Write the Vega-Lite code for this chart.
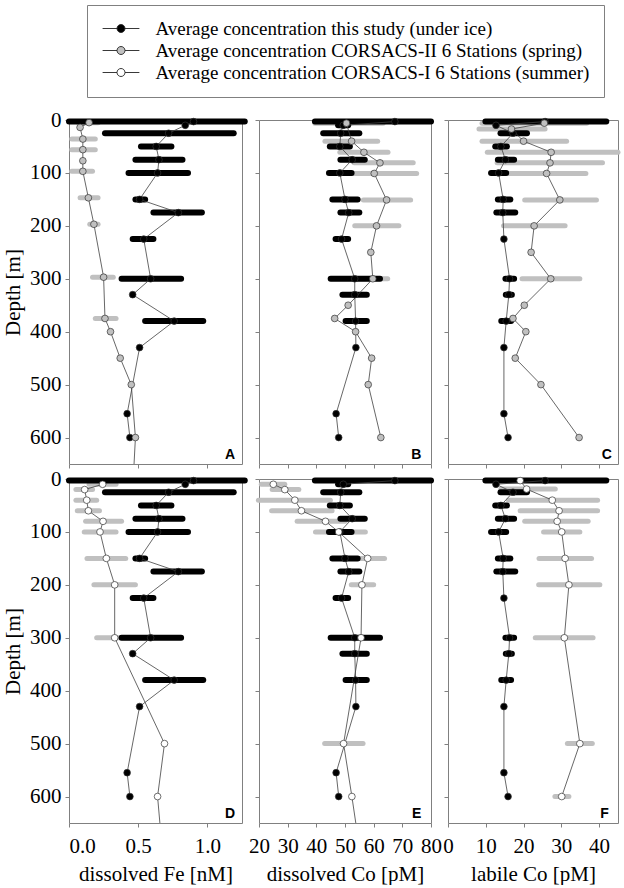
{
  "$schema": "https://vega.github.io/schema/vega-lite/v6.json",
  "padding": {"left": 2, "top": 4, "right": 2, "bottom": 0},
  "background": "white",
  "datasets": {
    "Fe": [
      {"s": "ice", "d": 3, "v": 0.9, "lo": 0, "hi": 1.27},
      {"s": "ice", "d": 10, "v": 0.84},
      {"s": "ice", "d": 25, "v": 0.72, "lo": 0.26, "hi": 1.19},
      {"s": "ice", "d": 50, "v": 0.63, "lo": 0.52, "hi": 0.74},
      {"s": "ice", "d": 75, "v": 0.65, "lo": 0.48, "hi": 0.82},
      {"s": "ice", "d": 100, "v": 0.64, "lo": 0.43, "hi": 0.86},
      {"s": "ice", "d": 150, "v": 0.51, "lo": 0.48, "hi": 0.55},
      {"s": "ice", "d": 175, "v": 0.79, "lo": 0.61, "hi": 0.96},
      {"s": "ice", "d": 225, "v": 0.54, "lo": 0.46, "hi": 0.61},
      {"s": "ice", "d": 300, "v": 0.59, "lo": 0.38, "hi": 0.81},
      {"s": "ice", "d": 330, "v": 0.46},
      {"s": "ice", "d": 380, "v": 0.76, "lo": 0.55, "hi": 0.97},
      {"s": "ice", "d": 430, "v": 0.51},
      {"s": "ice", "d": 555, "v": 0.42},
      {"s": "ice", "d": 600, "v": 0.44},
      {"s": "spring", "d": 5, "v": 0.145, "lo": 0.07, "hi": 0.21},
      {"s": "spring", "d": 14, "v": 0.08},
      {"s": "spring", "d": 36, "v": 0.1, "lo": 0.02, "hi": 0.19},
      {"s": "spring", "d": 56, "v": 0.1, "lo": 0.02, "hi": 0.19},
      {"s": "spring", "d": 77, "v": 0.1},
      {"s": "spring", "d": 97, "v": 0.1, "lo": 0.02, "hi": 0.17},
      {"s": "spring", "d": 147, "v": 0.14, "lo": 0.08, "hi": 0.21},
      {"s": "spring", "d": 197, "v": 0.18, "lo": 0.15, "hi": 0.21},
      {"s": "spring", "d": 297, "v": 0.25, "lo": 0.17, "hi": 0.32},
      {"s": "spring", "d": 375, "v": 0.26, "lo": 0.19, "hi": 0.34},
      {"s": "spring", "d": 400, "v": 0.3},
      {"s": "spring", "d": 450, "v": 0.37},
      {"s": "spring", "d": 500, "v": 0.45},
      {"s": "spring", "d": 600, "v": 0.48},
      {"s": "spring", "d": 750, "v": 0.45},
      {"s": "summer", "d": 10, "v": 0.243, "lo": 0.145, "hi": 0.34},
      {"s": "summer", "d": 20, "v": 0.113, "lo": 0.05, "hi": 0.17},
      {"s": "summer", "d": 40, "v": 0.128, "lo": 0.05, "hi": 0.2},
      {"s": "summer", "d": 60, "v": 0.14, "lo": 0.06, "hi": 0.22},
      {"s": "summer", "d": 80, "v": 0.246, "lo": 0.12, "hi": 0.38},
      {"s": "summer", "d": 100, "v": 0.224, "lo": 0.11, "hi": 0.34},
      {"s": "summer", "d": 150, "v": 0.27, "lo": 0.13, "hi": 0.41},
      {"s": "summer", "d": 200, "v": 0.33, "lo": 0.18, "hi": 0.48},
      {"s": "summer", "d": 300, "v": 0.33, "lo": 0.2, "hi": 0.46},
      {"s": "summer", "d": 500, "v": 0.69},
      {"s": "summer", "d": 600, "v": 0.64},
      {"s": "summer", "d": 750, "v": 0.69}
    ],
    "dCo": [
      {"s": "ice", "d": 3, "v": 67.4, "lo": 39.5, "hi": 80},
      {"s": "ice", "d": 10, "v": 49.4, "lo": 47.6, "hi": 51.1},
      {"s": "ice", "d": 25, "v": 48.5, "lo": 42.4, "hi": 55},
      {"s": "ice", "d": 50, "v": 48.2, "lo": 44.7, "hi": 51.7},
      {"s": "ice", "d": 75, "v": 52.5, "lo": 48.4, "hi": 56.9},
      {"s": "ice", "d": 100, "v": 48.2, "lo": 44.4, "hi": 52.3},
      {"s": "ice", "d": 150, "v": 50, "lo": 45.6, "hi": 54.4},
      {"s": "ice", "d": 175, "v": 51.3, "lo": 48.4, "hi": 55},
      {"s": "ice", "d": 225, "v": 48.8, "lo": 46.7, "hi": 51.1},
      {"s": "ice", "d": 300, "v": 53.4, "lo": 45, "hi": 62.2},
      {"s": "ice", "d": 330, "v": 53.4, "lo": 49.1, "hi": 57.6},
      {"s": "ice", "d": 380, "v": 53.7, "lo": 50.2, "hi": 57.6},
      {"s": "ice", "d": 430, "v": 53.8},
      {"s": "ice", "d": 555, "v": 46.9},
      {"s": "ice", "d": 600, "v": 47.8},
      {"s": "spring", "d": 6, "v": 50.5, "lo": 39.5, "hi": 63.3},
      {"s": "spring", "d": 40, "v": 52.3, "lo": 43, "hi": 61.4},
      {"s": "spring", "d": 61, "v": 56.6, "lo": 48.2, "hi": 65},
      {"s": "spring", "d": 81, "v": 62.2, "lo": 53.2, "hi": 73.8},
      {"s": "spring", "d": 101, "v": 60.2, "lo": 52.3, "hi": 75},
      {"s": "spring", "d": 151, "v": 64.5, "lo": 56.4, "hi": 72.9},
      {"s": "spring", "d": 200, "v": 61, "lo": 53.4, "hi": 68.8},
      {"s": "spring", "d": 250, "v": 59},
      {"s": "spring", "d": 300, "v": 59.7, "lo": 54.5, "hi": 64.9},
      {"s": "spring", "d": 350, "v": 51.1},
      {"s": "spring", "d": 375, "v": 46.4},
      {"s": "spring", "d": 400, "v": 53.7},
      {"s": "spring", "d": 450, "v": 59.3},
      {"s": "spring", "d": 500, "v": 58.1},
      {"s": "spring", "d": 600, "v": 62.5},
      {"s": "summer", "d": 10, "v": 25, "lo": 20.8, "hi": 29},
      {"s": "summer", "d": 20, "v": 29, "lo": 24.6, "hi": 33.9},
      {"s": "summer", "d": 40, "v": 32.5, "lo": 19.8, "hi": 44.9},
      {"s": "summer", "d": 60, "v": 34.8, "lo": 24.4, "hi": 45.5},
      {"s": "summer", "d": 80, "v": 43.2, "lo": 33.3, "hi": 50.1},
      {"s": "summer", "d": 100, "v": 47.8, "lo": 39.7, "hi": 57.1},
      {"s": "summer", "d": 150, "v": 57.9, "lo": 50, "hi": 63.8},
      {"s": "summer", "d": 200, "v": 55.9, "lo": 52.2, "hi": 60},
      {"s": "summer", "d": 300, "v": 55.6},
      {"s": "summer", "d": 500, "v": 49.5, "lo": 42.9, "hi": 56.3},
      {"s": "summer", "d": 600, "v": 52.4},
      {"s": "summer", "d": 750, "v": 56.5}
    ],
    "lCo": [
      {"s": "ice", "d": 3, "v": 25.7, "lo": 9.9, "hi": 41.9},
      {"s": "ice", "d": 10, "v": 12.7},
      {"s": "ice", "d": 25, "v": 17.2, "lo": 13.9, "hi": 20.9},
      {"s": "ice", "d": 50, "v": 14, "lo": 12.5, "hi": 15.6},
      {"s": "ice", "d": 75, "v": 15.2, "lo": 13.2, "hi": 17.5},
      {"s": "ice", "d": 100, "v": 13.4, "lo": 11.4, "hi": 15.4},
      {"s": "ice", "d": 150, "v": 14.6, "lo": 13.2, "hi": 16.5},
      {"s": "ice", "d": 175, "v": 14.5, "lo": 12.8, "hi": 17.8},
      {"s": "ice", "d": 225, "v": 14.8},
      {"s": "ice", "d": 300, "v": 16.3, "lo": 15.2, "hi": 17.5},
      {"s": "ice", "d": 330, "v": 16.1, "lo": 15.3, "hi": 16.9},
      {"s": "ice", "d": 380, "v": 15.4, "lo": 14.1, "hi": 16.7},
      {"s": "ice", "d": 430, "v": 14.8},
      {"s": "ice", "d": 555, "v": 14.8},
      {"s": "ice", "d": 600, "v": 15.9},
      {"s": "spring", "d": 6, "v": 25.5, "lo": 9, "hi": 36.7},
      {"s": "spring", "d": 17, "v": 16.8, "lo": 8.2, "hi": 25.7},
      {"s": "spring", "d": 40, "v": 20, "lo": 9, "hi": 31.4},
      {"s": "spring", "d": 61, "v": 27.3, "lo": 10.4, "hi": 45},
      {"s": "spring", "d": 81, "v": 27, "lo": 13, "hi": 40.9},
      {"s": "spring", "d": 101, "v": 26.1, "lo": 16, "hi": 36.5},
      {"s": "spring", "d": 151, "v": 29.6, "lo": 20.3, "hi": 39.3},
      {"s": "spring", "d": 200, "v": 22.8, "lo": 14.7, "hi": 31},
      {"s": "spring", "d": 250, "v": 22},
      {"s": "spring", "d": 300, "v": 27.2, "lo": 19.6, "hi": 34.9},
      {"s": "spring", "d": 350, "v": 20.2},
      {"s": "spring", "d": 375, "v": 17.2},
      {"s": "spring", "d": 400, "v": 20.6},
      {"s": "spring", "d": 450, "v": 17.8},
      {"s": "spring", "d": 500, "v": 24.6},
      {"s": "spring", "d": 600, "v": 34.7},
      {"s": "summer", "d": 3, "v": 19.1, "lo": 14, "hi": 30.6},
      {"s": "summer", "d": 19, "v": 20.8, "lo": 14, "hi": 28.4},
      {"s": "summer", "d": 40, "v": 27.6, "lo": 16, "hi": 39.6},
      {"s": "summer", "d": 60, "v": 29.4, "lo": 19.1, "hi": 39.6},
      {"s": "summer", "d": 80, "v": 28.9, "lo": 20.3, "hi": 37.1},
      {"s": "summer", "d": 100, "v": 30.1, "lo": 25.3, "hi": 34.9},
      {"s": "summer", "d": 150, "v": 31, "lo": 24.1, "hi": 38},
      {"s": "summer", "d": 200, "v": 32, "lo": 24, "hi": 40.2},
      {"s": "summer", "d": 300, "v": 30.8, "lo": 23.1, "hi": 38.4},
      {"s": "summer", "d": 500, "v": 34.9, "lo": 31.6, "hi": 38.2},
      {"s": "summer", "d": 600, "v": 30.1, "lo": 28.3, "hi": 32}
    ]
  },
  "columns": 3,
  "spacing": {"row": 15, "column": 17},
  "bounds": "flush",
  "concat": [
    {
      "width": 173, "height": 344,
      "data": {"name": "Fe"},
      "layer": [
        {
          "transform": [{"filter": "datum.s == 'spring' && isValid(datum.lo)"}],
          "mark": {"type": "rule", "color": "#c0c0c0", "strokeWidth": 5, "strokeCap": "round"},
          "encoding": {
            "x": {"field": "lo", "type": "quantitative", "scale": {"domain": [0, 1.25], "nice": false}, "axis": {"values": [0, 0.5, 1], "labels": false, "title": null}},
            "x2": {"field": "hi"},
            "y": {"field": "d", "type": "quantitative", "scale": {"domain": [0, 650], "nice": false, "reverse": true}, "axis": {"values": [0, 100, 200, 300, 400, 500, 600], "tickCount": 10, "title": "Depth [m]"}}
          }
        },
        {
          "transform": [{"filter": "datum.s == 'ice' && isValid(datum.lo)"}],
          "mark": {"type": "rule", "color": "black", "strokeWidth": 6, "strokeCap": "round"},
          "encoding": {"x": {"field": "lo", "type": "quantitative"}, "x2": {"field": "hi"}, "y": {"field": "d", "type": "quantitative"}}
        },
        {
          "transform": [{"filter": "datum.s != 'summer'"}],
          "mark": {"type": "line", "color": "#404040", "strokeWidth": 0.8, "clip": true},
          "encoding": {"x": {"field": "v", "type": "quantitative"}, "y": {"field": "d", "type": "quantitative"}, "detail": {"field": "s"}, "order": {"field": "d", "type": "quantitative"}}
        },
        {
          "transform": [{"filter": "datum.s != 'summer' && datum.d <= 650"}],
          "mark": {"type": "point", "filled": true, "size": 45, "stroke": "#333333", "strokeWidth": 0.7, "opacity": 1},
          "encoding": {
            "x": {"field": "v", "type": "quantitative"},
            "y": {"field": "d", "type": "quantitative"},
            "fill": {
              "field": "s", "type": "nominal",
              "scale": {"domain": ["ice", "spring", "summer"], "range": ["black", "#c0c0c0", "white"]},
              "legend": {
                "orient": "none", "legendX": 18, "legendY": -115, "title": null, "direction": "vertical",
                "symbolType": "M-4.6,0H-1M1,0H4.6M1,0A1,1,0,1,1,-1,0A1,1,0,1,1,1,0Z",
                "symbolSize": 64, "symbolStrokeColor": "#222222", "symbolStrokeWidth": 0.9, "symbolOffset": 10.5,
                "labelFont": "Liberation Serif", "labelFontSize": 19, "labelColor": "black", "labelOffset": 25, "labelLimit": 0,
                "rowPadding": 2, "padding": 14, "strokeColor": "#808080", "fillColor": "white",
                "labelExpr": "datum.label == 'ice' ? 'Average concentration this study (under ice)' : datum.label == 'spring' ? 'Average concentration CORSACS-II 6 Stations (spring)' : 'Average concentration CORSACS-I 6 Stations (summer)'"
              }
            }
          }
        },
        {
          "data": {"values": [{"t": "A"}]},
          "mark": {"type": "text", "font": "Liberation Sans", "fontWeight": "bold", "fontSize": 14, "align": "right", "baseline": "alphabetic"},
          "encoding": {"x": {"datum": 1.2, "type": "quantitative"}, "y": {"datum": 640, "type": "quantitative"}, "text": {"field": "t"}}
        }
      ]
    },
    {
      "width": 172, "height": 344,
      "data": {"name": "dCo"},
      "layer": [
        {
          "transform": [{"filter": "datum.s == 'spring' && isValid(datum.lo)"}],
          "mark": {"type": "rule", "color": "#c0c0c0", "strokeWidth": 5, "strokeCap": "round"},
          "encoding": {
            "x": {"field": "lo", "type": "quantitative", "scale": {"domain": [20, 80], "nice": false, "zero": false}, "axis": {"values": [20, 30, 40, 50, 60, 70, 80], "tickCount": 10, "labels": false, "title": null}},
            "x2": {"field": "hi"},
            "y": {"field": "d", "type": "quantitative", "scale": {"domain": [0, 650], "nice": false, "reverse": true}, "axis": {"values": [0, 100, 200, 300, 400, 500, 600], "tickCount": 10, "labels": false, "title": null}}
          }
        },
        {
          "transform": [{"filter": "datum.s == 'ice' && isValid(datum.lo)"}],
          "mark": {"type": "rule", "color": "black", "strokeWidth": 6, "strokeCap": "round"},
          "encoding": {"x": {"field": "lo", "type": "quantitative"}, "x2": {"field": "hi"}, "y": {"field": "d", "type": "quantitative"}}
        },
        {
          "transform": [{"filter": "datum.s != 'summer'"}],
          "mark": {"type": "line", "color": "#404040", "strokeWidth": 0.8, "clip": true},
          "encoding": {"x": {"field": "v", "type": "quantitative"}, "y": {"field": "d", "type": "quantitative"}, "detail": {"field": "s"}, "order": {"field": "d", "type": "quantitative"}}
        },
        {
          "transform": [{"filter": "datum.s != 'summer' && datum.d <= 650"}],
          "mark": {"type": "point", "filled": true, "size": 45, "stroke": "#333333", "strokeWidth": 0.7, "opacity": 1},
          "encoding": {
            "x": {"field": "v", "type": "quantitative"},
            "y": {"field": "d", "type": "quantitative"},
            "fill": {"field": "s", "type": "nominal", "scale": {"domain": ["ice", "spring", "summer"], "range": ["black", "#c0c0c0", "white"]}}
          }
        },
        {
          "data": {"values": [{"t": "B"}]},
          "mark": {"type": "text", "font": "Liberation Sans", "fontWeight": "bold", "fontSize": 14, "align": "right", "baseline": "alphabetic"},
          "encoding": {"x": {"datum": 76.6, "type": "quantitative"}, "y": {"datum": 640, "type": "quantitative"}, "text": {"field": "t"}}
        }
      ]
    },
    {
      "width": 170, "height": 344,
      "data": {"name": "lCo"},
      "layer": [
        {
          "transform": [{"filter": "datum.s == 'spring' && isValid(datum.lo)"}],
          "mark": {"type": "rule", "color": "#c0c0c0", "strokeWidth": 5, "strokeCap": "round"},
          "encoding": {
            "x": {"field": "lo", "type": "quantitative", "scale": {"domain": [0, 45], "nice": false}, "axis": {"values": [0, 10, 20, 30, 40], "tickCount": 10, "labels": false, "title": null}},
            "x2": {"field": "hi"},
            "y": {"field": "d", "type": "quantitative", "scale": {"domain": [0, 650], "nice": false, "reverse": true}, "axis": {"values": [0, 100, 200, 300, 400, 500, 600], "tickCount": 10, "labels": false, "title": null}}
          }
        },
        {
          "transform": [{"filter": "datum.s == 'ice' && isValid(datum.lo)"}],
          "mark": {"type": "rule", "color": "black", "strokeWidth": 6, "strokeCap": "round"},
          "encoding": {"x": {"field": "lo", "type": "quantitative"}, "x2": {"field": "hi"}, "y": {"field": "d", "type": "quantitative"}}
        },
        {
          "transform": [{"filter": "datum.s != 'summer'"}],
          "mark": {"type": "line", "color": "#404040", "strokeWidth": 0.8, "clip": true},
          "encoding": {"x": {"field": "v", "type": "quantitative"}, "y": {"field": "d", "type": "quantitative"}, "detail": {"field": "s"}, "order": {"field": "d", "type": "quantitative"}}
        },
        {
          "transform": [{"filter": "datum.s != 'summer' && datum.d <= 650"}],
          "mark": {"type": "point", "filled": true, "size": 45, "stroke": "#333333", "strokeWidth": 0.7, "opacity": 1},
          "encoding": {
            "x": {"field": "v", "type": "quantitative"},
            "y": {"field": "d", "type": "quantitative"},
            "fill": {"field": "s", "type": "nominal", "scale": {"domain": ["ice", "spring", "summer"], "range": ["black", "#c0c0c0", "white"]}}
          }
        },
        {
          "data": {"values": [{"t": "C"}]},
          "mark": {"type": "text", "font": "Liberation Sans", "fontWeight": "bold", "fontSize": 14, "align": "right", "baseline": "alphabetic"},
          "encoding": {"x": {"datum": 43.4, "type": "quantitative"}, "y": {"datum": 640, "type": "quantitative"}, "text": {"field": "t"}}
        }
      ]
    },
    {
      "width": 173, "height": 344,
      "data": {"name": "Fe"},
      "layer": [
        {
          "transform": [{"filter": "datum.s == 'summer' && isValid(datum.lo)"}],
          "mark": {"type": "rule", "color": "#c0c0c0", "strokeWidth": 5, "strokeCap": "round"},
          "encoding": {
            "x": {"field": "lo", "type": "quantitative", "scale": {"domain": [0, 1.25], "nice": false}, "axis": {"values": [0, 0.5, 1], "format": ".1f", "title": "dissolved Fe [nM]"}},
            "x2": {"field": "hi"},
            "y": {"field": "d", "type": "quantitative", "scale": {"domain": [0, 650], "nice": false, "reverse": true}, "axis": {"values": [0, 100, 200, 300, 400, 500, 600], "tickCount": 10, "title": "Depth [m]"}}
          }
        },
        {
          "transform": [{"filter": "datum.s == 'ice' && isValid(datum.lo)"}],
          "mark": {"type": "rule", "color": "black", "strokeWidth": 6, "strokeCap": "round"},
          "encoding": {"x": {"field": "lo", "type": "quantitative"}, "x2": {"field": "hi"}, "y": {"field": "d", "type": "quantitative"}}
        },
        {
          "transform": [{"filter": "datum.s != 'spring'"}],
          "mark": {"type": "line", "color": "#404040", "strokeWidth": 0.8, "clip": true},
          "encoding": {"x": {"field": "v", "type": "quantitative"}, "y": {"field": "d", "type": "quantitative"}, "detail": {"field": "s"}, "order": {"field": "d", "type": "quantitative"}}
        },
        {
          "transform": [{"filter": "datum.s != 'spring' && datum.d <= 650"}],
          "mark": {"type": "point", "filled": true, "size": 45, "stroke": "#333333", "strokeWidth": 0.7, "opacity": 1},
          "encoding": {
            "x": {"field": "v", "type": "quantitative"},
            "y": {"field": "d", "type": "quantitative"},
            "fill": {"field": "s", "type": "nominal", "scale": {"domain": ["ice", "spring", "summer"], "range": ["black", "#c0c0c0", "white"]}}
          }
        },
        {
          "data": {"values": [{"t": "D"}]},
          "mark": {"type": "text", "font": "Liberation Sans", "fontWeight": "bold", "fontSize": 14, "align": "right", "baseline": "alphabetic"},
          "encoding": {"x": {"datum": 1.2, "type": "quantitative"}, "y": {"datum": 640, "type": "quantitative"}, "text": {"field": "t"}}
        }
      ]
    },
    {
      "width": 172, "height": 344,
      "data": {"name": "dCo"},
      "layer": [
        {
          "transform": [{"filter": "datum.s == 'summer' && isValid(datum.lo)"}],
          "mark": {"type": "rule", "color": "#c0c0c0", "strokeWidth": 5, "strokeCap": "round"},
          "encoding": {
            "x": {"field": "lo", "type": "quantitative", "scale": {"domain": [20, 80], "nice": false, "zero": false}, "axis": {"values": [20, 30, 40, 50, 60, 70, 80], "tickCount": 10, "labelFlush": false, "title": "dissolved Co [pM]"}},
            "x2": {"field": "hi"},
            "y": {"field": "d", "type": "quantitative", "scale": {"domain": [0, 650], "nice": false, "reverse": true}, "axis": {"values": [0, 100, 200, 300, 400, 500, 600], "tickCount": 10, "labels": false, "title": null}}
          }
        },
        {
          "transform": [{"filter": "datum.s == 'ice' && isValid(datum.lo)"}],
          "mark": {"type": "rule", "color": "black", "strokeWidth": 6, "strokeCap": "round"},
          "encoding": {"x": {"field": "lo", "type": "quantitative"}, "x2": {"field": "hi"}, "y": {"field": "d", "type": "quantitative"}}
        },
        {
          "transform": [{"filter": "datum.s != 'spring'"}],
          "mark": {"type": "line", "color": "#404040", "strokeWidth": 0.8, "clip": true},
          "encoding": {"x": {"field": "v", "type": "quantitative"}, "y": {"field": "d", "type": "quantitative"}, "detail": {"field": "s"}, "order": {"field": "d", "type": "quantitative"}}
        },
        {
          "transform": [{"filter": "datum.s != 'spring' && datum.d <= 650"}],
          "mark": {"type": "point", "filled": true, "size": 45, "stroke": "#333333", "strokeWidth": 0.7, "opacity": 1},
          "encoding": {
            "x": {"field": "v", "type": "quantitative"},
            "y": {"field": "d", "type": "quantitative"},
            "fill": {"field": "s", "type": "nominal", "scale": {"domain": ["ice", "spring", "summer"], "range": ["black", "#c0c0c0", "white"]}}
          }
        },
        {
          "data": {"values": [{"t": "E"}]},
          "mark": {"type": "text", "font": "Liberation Sans", "fontWeight": "bold", "fontSize": 14, "align": "right", "baseline": "alphabetic"},
          "encoding": {"x": {"datum": 76.6, "type": "quantitative"}, "y": {"datum": 640, "type": "quantitative"}, "text": {"field": "t"}}
        }
      ]
    },
    {
      "width": 170, "height": 344,
      "data": {"name": "lCo"},
      "layer": [
        {
          "transform": [{"filter": "datum.s == 'summer' && isValid(datum.lo)"}],
          "mark": {"type": "rule", "color": "#c0c0c0", "strokeWidth": 5, "strokeCap": "round"},
          "encoding": {
            "x": {"field": "lo", "type": "quantitative", "scale": {"domain": [0, 45], "nice": false}, "axis": {"values": [0, 10, 20, 30, 40], "tickCount": 10, "labelFlush": false, "title": "labile Co [pM]"}},
            "x2": {"field": "hi"},
            "y": {"field": "d", "type": "quantitative", "scale": {"domain": [0, 650], "nice": false, "reverse": true}, "axis": {"values": [0, 100, 200, 300, 400, 500, 600], "tickCount": 10, "labels": false, "title": null}}
          }
        },
        {
          "transform": [{"filter": "datum.s == 'ice' && isValid(datum.lo)"}],
          "mark": {"type": "rule", "color": "black", "strokeWidth": 6, "strokeCap": "round"},
          "encoding": {"x": {"field": "lo", "type": "quantitative"}, "x2": {"field": "hi"}, "y": {"field": "d", "type": "quantitative"}}
        },
        {
          "transform": [{"filter": "datum.s != 'spring'"}],
          "mark": {"type": "line", "color": "#404040", "strokeWidth": 0.8, "clip": true},
          "encoding": {"x": {"field": "v", "type": "quantitative"}, "y": {"field": "d", "type": "quantitative"}, "detail": {"field": "s"}, "order": {"field": "d", "type": "quantitative"}}
        },
        {
          "transform": [{"filter": "datum.s != 'spring' && datum.d <= 650"}],
          "mark": {"type": "point", "filled": true, "size": 45, "stroke": "#333333", "strokeWidth": 0.7, "opacity": 1},
          "encoding": {
            "x": {"field": "v", "type": "quantitative"},
            "y": {"field": "d", "type": "quantitative"},
            "fill": {"field": "s", "type": "nominal", "scale": {"domain": ["ice", "spring", "summer"], "range": ["black", "#c0c0c0", "white"]}}
          }
        },
        {
          "data": {"values": [{"t": "F"}]},
          "mark": {"type": "text", "font": "Liberation Sans", "fontWeight": "bold", "fontSize": 14, "align": "right", "baseline": "alphabetic"},
          "encoding": {"x": {"datum": 42.6, "type": "quantitative"}, "y": {"datum": 640, "type": "quantitative"}, "text": {"field": "t"}}
        }
      ]
    }
  ],
  "config": {
    "view": {"stroke": "#808080", "strokeWidth": 1},
    "legend": {"labelFont": "Liberation Serif", "labelFontSize": 19, "labelColor": "black"},
    "axis": {
      "domain": false, "grid": false, "ticks": true, "tickColor": "#808080", "tickSize": 4, "labelOverlap": false,
      "labelFont": "Liberation Serif", "labelFontSize": 21, "labelColor": "black", "labelPadding": 4,
      "titleFont": "Liberation Serif", "titleFontSize": 21, "titleFontWeight": "normal", "titleColor": "black", "titlePadding": 6
    },
    "axisX": {"labelPadding": 8, "titlePadding": 7}
  }
}
